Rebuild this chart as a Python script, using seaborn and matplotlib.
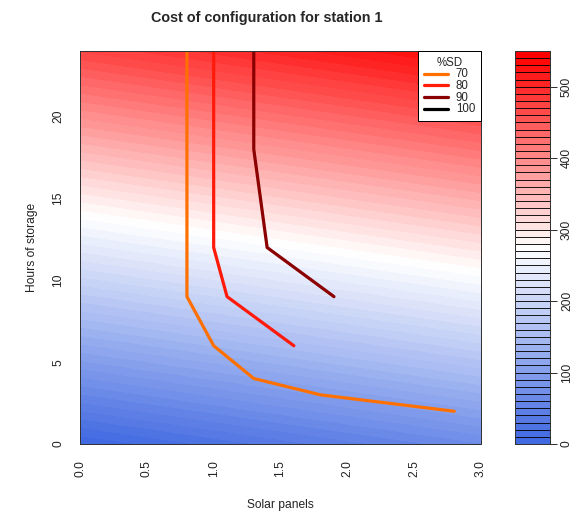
import numpy as np
import matplotlib

matplotlib.use("Agg")
import matplotlib.pyplot as plt
import pandas as pd
import seaborn as sns
from matplotlib.colors import LinearSegmentedColormap
from matplotlib.lines import Line2D

# unit costs (cost = panels*a + hours*b)
panel_cost = 23.0
storage_cost = 19.6
panels_grid = np.linspace(0, 3, 121)
hours_grid = np.linspace(0, 24, 121)
cost_levels = np.arange(0, 551, 10)
cbar_ticks = [0, 100, 200, 300, 400, 500]

# %SD curves
sd_labels = ["70", "80", "90", "100"]
sd_colors = ["#FF7000", "#FF1A0A", "#8B0000", "#000000"]
panels_70 = [0.8, 0.8, 1.0, 1.3, 1.8, 2.8]
hours_70 = [24, 9, 6, 4, 3, 2]
panels_80 = [1.0, 1.0, 1.1, 1.6]
hours_80 = [24, 12, 9, 6]
panels_90 = [1.3, 1.3, 1.4, 1.9]
hours_90 = [24, 18, 12, 9]

sns.set_style("white")
plt.rcParams["font.family"] = ["Liberation Sans", "DejaVu Sans"]

cmap = LinearSegmentedColormap.from_list("rwb", ["#4169E1", "#FFFFFF", "#FF0000"])
band_colors = [cmap(v) for v in np.linspace(0, 1, len(cost_levels) - 1)]

fig = plt.figure(figsize=(8, 512 / 72), dpi=72)
ax = fig.add_axes([80 / 576, 68 / 512, 401 / 576, 393 / 512])
cax = fig.add_axes([515 / 576, 68 / 512, 35 / 576, 393 / 512])

X, Y = np.meshgrid(panels_grid, hours_grid)
Z = panel_cost * X + storage_cost * Y
ax.contourf(X, Y, Z, levels=cost_levels, colors=band_colors)

curves = pd.concat(
    [
        pd.DataFrame({"panels": panels_70, "hours": hours_70, "sd": "70"}),
        pd.DataFrame({"panels": panels_80, "hours": hours_80, "sd": "80"}),
        pd.DataFrame({"panels": panels_90, "hours": hours_90, "sd": "90"}),
    ]
)
for lab, col in zip(sd_labels[:3], sd_colors[:3]):
    sub = curves[curves["sd"] == lab]
    sns.lineplot(data=sub, x="panels", y="hours", sort=False, estimator=None,
                 color=col, linewidth=3.2, ax=ax, legend=False)

ax.set_xlim(0, 3)
ax.set_ylim(0, 24)
ax.set_xticks([0, 0.5, 1.0, 1.5, 2.0, 2.5, 3.0])
ax.set_xticklabels(["0.0", "0.5", "1.0", "1.5", "2.0", "2.5", "3.0"], rotation=90)
ax.set_yticks([0, 5, 10, 15, 20])
ax.set_yticklabels(["0", "5", "10", "15", "20"], rotation=90, va="center")
ax.tick_params(axis="both", direction="out", length=7, width=1, color="#333333",
               labelsize=12, pad=9, labelcolor="#222222")
ax.set_xlabel("Solar panels", fontsize=12, labelpad=22, color="#222222")
ax.set_ylabel("Hours of storage", fontsize=12, labelpad=14, color="#222222")
for s in ax.spines.values():
    s.set_color("#333333")
    s.set_linewidth(1)

handles = [Line2D([0], [0], color=c, lw=3.2) for c in sd_colors]
leg = ax.legend(handles, sd_labels, title="%SD", loc="upper right", fontsize=11.5,
                title_fontsize=11.5, frameon=True, fancybox=False, borderaxespad=0,
                handlelength=2.1, handleheight=0.5, handletextpad=0.7,
                labelspacing=-0.03, borderpad=0.5)
leg.get_frame().set_edgecolor("black")
leg.get_frame().set_linewidth(1)
leg.get_frame().set_alpha(1)

# colour key
cax.bar(x=0.5, height=np.diff(cost_levels), bottom=cost_levels[:-1], width=1,
        color=band_colors, edgecolor="black", linewidth=0.8)
cax.set_xlim(0, 1)
cax.set_ylim(cost_levels[0], cost_levels[-1])
cax.set_xticks([])
cax.yaxis.tick_right()
cax.set_yticks(cbar_ticks)
cax.set_yticklabels([str(t) for t in cbar_ticks], rotation=90, va="center")
cax.tick_params(axis="y", direction="out", length=7, width=1, color="#333333",
                labelsize=12, pad=4, labelcolor="#222222")
for s in cax.spines.values():
    s.set_color("#333333")
    s.set_linewidth(1)

fig.text(267 / 576, 1 - 18 / 512, "Cost of configuration for station 1",
         ha="center", va="center", fontsize=14.4, fontweight="bold")

fig.savefig("out.png", dpi=72)
plt.close(fig)
